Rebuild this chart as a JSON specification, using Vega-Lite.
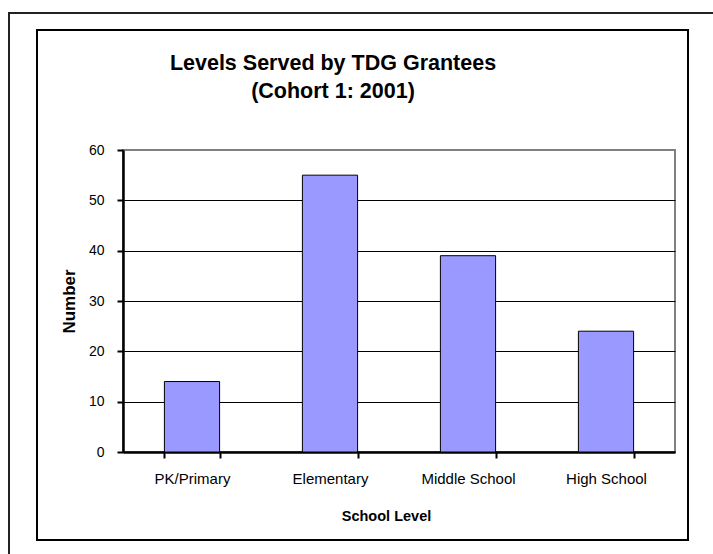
{
  "$schema": "https://vega.github.io/schema/vega-lite/v6.json",
  "autosize": {"type": "none"},
  "width": 552,
  "height": 302,
  "padding": {"left": 123, "top": 150, "right": 38, "bottom": 102},
  "background": "white",
  "config": {
    "font": "Liberation Sans",
    "view": {"stroke": "#808080", "strokeWidth": 2}
  },
  "title": {
    "text": ["Levels Served by TDG Grantees", "(Cohort 1: 2001)"],
    "font": "Liberation Sans",
    "fontSize": 21.5,
    "fontWeight": "bold",
    "color": "black",
    "lineHeight": 28,
    "anchor": "middle",
    "dx": -66,
    "offset": -90
  },
  "layer": [
    {
      "data": {"values": [{"frame": "outer"}]},
      "mark": {"type": "rect", "fill": null, "stroke": "#222", "strokeWidth": 2, "clip": false},
      "encoding": {
        "x": {"value": -114},
        "x2": {"value": 700},
        "y": {"value": -137},
        "y2": {"value": 500}
      }
    },
    {
      "data": {"values": [{"frame": "inner"}]},
      "mark": {"type": "rect", "fill": null, "stroke": "black", "strokeWidth": 2, "clip": false},
      "encoding": {
        "x": {"value": -86},
        "x2": {"value": 565},
        "y": {"value": -120},
        "y2": {"value": 390}
      }
    },
    {
      "data": {
        "values": [
          {"level": "PK/Primary", "count": 14},
          {"level": "Elementary", "count": 55},
          {"level": "Middle School", "count": 39},
          {"level": "High School", "count": 24}
        ]
      },
      "mark": {"type": "bar", "fill": "#9999ff", "stroke": "black", "strokeWidth": 1},
      "encoding": {
        "x": {
          "field": "level",
          "type": "nominal",
          "sort": null,
          "scale": {"paddingInner": 0.6, "paddingOuter": 0.3},
          "axis": {
            "title": "School Level",
            "titleFont": "Liberation Sans",
            "titleFontSize": 14.5,
            "titleFontWeight": "bold",
            "titleColor": "black",
            "titleX": 263,
            "titleY": 68,
            "titleBaseline": "alphabetic",
            "labelAngle": 0,
            "labelFont": "Liberation Sans",
            "labelFontSize": 15,
            "labelColor": "black",
            "labelPadding": 13,
            "labelDx": -5,
            "tickBand": "extent",
            "tickColor": "black",
            "tickWidth": 2,
            "tickSize": 6,
            "domainColor": "black",
            "domainWidth": 2.5,
            "grid": false
          }
        },
        "y": {
          "field": "count",
          "type": "quantitative",
          "scale": {"domain": [0, 60]},
          "axis": {
            "title": "Number",
            "titleFont": "Liberation Sans",
            "titleFontSize": 17,
            "titleFontWeight": "bold",
            "titleColor": "black",
            "titleX": -54,
            "titleY": 151,
            "titleBaseline": "middle",
            "values": [0, 10, 20, 30, 40, 50, 60],
            "labelFont": "Liberation Sans",
            "labelFontSize": 14,
            "labelColor": "black",
            "labelPadding": 13,
            "tickColor": "black",
            "tickWidth": 2,
            "tickSize": 6,
            "domainColor": "black",
            "domainWidth": 2.5,
            "grid": true,
            "gridColor": {"condition": {"test": "datum.value == 60", "value": "#808080"}, "value": "black"},
            "gridWidth": 1.2,
            "gridOpacity": 1
          }
        }
      }
    }
  ]
}
